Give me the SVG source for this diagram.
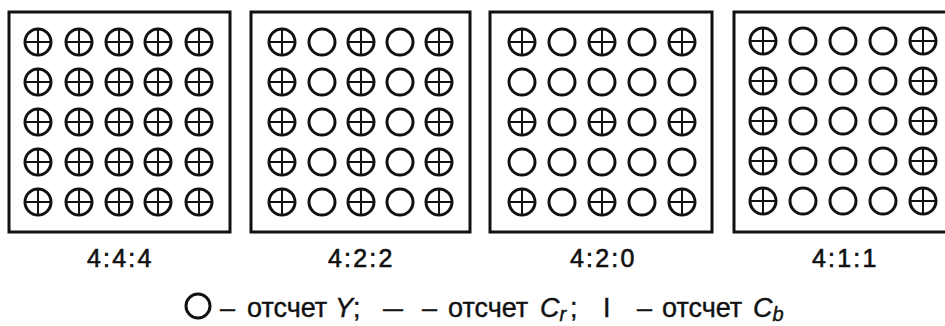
<svg xmlns="http://www.w3.org/2000/svg" xmlns:xlink="http://www.w3.org/1999/xlink" width="945" height="326" viewBox="0 0 945 326">
<style>
.frame{fill:none;stroke:#111;stroke-width:3}
.s{fill:none;stroke:#111;stroke-width:3}
.x{fill:none;stroke:#111;stroke-width:2}
.lbl{font-family:"Liberation Sans",Arial,sans-serif;font-size:25px;fill:#111;stroke:#111;stroke-width:0.6;letter-spacing:2.2px}
.leg{font-family:"Liberation Sans",Arial,sans-serif;font-size:27px;fill:#111;stroke:#111;stroke-width:0.4}
.it{font-style:italic}
.sub{font-style:italic;font-size:20px}
</style>
<defs>
<g id="Y"><circle r="13" class="s"/></g>
<g id="YC"><circle r="13" class="s"/><path d="M-12 0H12M0 -12V12" class="x"/></g>
</defs>
<rect width="945" height="326" fill="#fff"/>

<g id="panel-444">
<rect x="9" y="12" width="221" height="220" class="frame"/>
<use xlink:href="#YC" x="38" y="42"/><use xlink:href="#YC" x="79" y="42"/><use xlink:href="#YC" x="119" y="42"/><use xlink:href="#YC" x="158" y="42"/><use xlink:href="#YC" x="199" y="42"/>
<use xlink:href="#YC" x="38" y="82"/><use xlink:href="#YC" x="79" y="82"/><use xlink:href="#YC" x="119" y="82"/><use xlink:href="#YC" x="158" y="82"/><use xlink:href="#YC" x="199" y="82"/>
<use xlink:href="#YC" x="38" y="122"/><use xlink:href="#YC" x="79" y="122"/><use xlink:href="#YC" x="119" y="122"/><use xlink:href="#YC" x="158" y="122"/><use xlink:href="#YC" x="199" y="122"/>
<use xlink:href="#YC" x="38" y="162"/><use xlink:href="#YC" x="79" y="162"/><use xlink:href="#YC" x="119" y="162"/><use xlink:href="#YC" x="158" y="162"/><use xlink:href="#YC" x="199" y="162"/>
<use xlink:href="#YC" x="38" y="202"/><use xlink:href="#YC" x="79" y="202"/><use xlink:href="#YC" x="119" y="202"/><use xlink:href="#YC" x="158" y="202"/><use xlink:href="#YC" x="199" y="202"/>
<text class="lbl" x="87" y="267">4:4:4</text>
</g>

<g id="panel-422">
<rect x="251" y="12" width="219" height="220" class="frame"/>
<use xlink:href="#YC" x="282" y="42"/><use xlink:href="#Y" x="322" y="42"/><use xlink:href="#YC" x="361" y="42"/><use xlink:href="#Y" x="400" y="42"/><use xlink:href="#YC" x="439" y="42"/>
<use xlink:href="#YC" x="282" y="82"/><use xlink:href="#Y" x="322" y="82"/><use xlink:href="#YC" x="361" y="82"/><use xlink:href="#Y" x="400" y="82"/><use xlink:href="#YC" x="439" y="82"/>
<use xlink:href="#YC" x="282" y="122"/><use xlink:href="#Y" x="322" y="122"/><use xlink:href="#YC" x="361" y="122"/><use xlink:href="#Y" x="400" y="122"/><use xlink:href="#YC" x="439" y="122"/>
<use xlink:href="#YC" x="282" y="162"/><use xlink:href="#Y" x="322" y="162"/><use xlink:href="#YC" x="361" y="162"/><use xlink:href="#Y" x="400" y="162"/><use xlink:href="#YC" x="439" y="162"/>
<use xlink:href="#YC" x="282" y="202"/><use xlink:href="#Y" x="322" y="202"/><use xlink:href="#YC" x="361" y="202"/><use xlink:href="#Y" x="400" y="202"/><use xlink:href="#YC" x="439" y="202"/>
<text class="lbl" x="328" y="267">4:2:2</text>
</g>

<g id="panel-420">
<rect x="490" y="12" width="222" height="220" class="frame"/>
<use xlink:href="#YC" x="522" y="42"/><use xlink:href="#Y" x="562" y="42"/><use xlink:href="#YC" x="602" y="42"/><use xlink:href="#Y" x="642" y="42"/><use xlink:href="#YC" x="682" y="42"/>
<use xlink:href="#Y" x="522" y="82"/><use xlink:href="#Y" x="562" y="82"/><use xlink:href="#Y" x="602" y="82"/><use xlink:href="#Y" x="642" y="82"/><use xlink:href="#Y" x="682" y="82"/>
<use xlink:href="#YC" x="522" y="122"/><use xlink:href="#Y" x="562" y="122"/><use xlink:href="#YC" x="602" y="122"/><use xlink:href="#Y" x="642" y="122"/><use xlink:href="#YC" x="682" y="122"/>
<use xlink:href="#Y" x="522" y="162"/><use xlink:href="#Y" x="562" y="162"/><use xlink:href="#Y" x="602" y="162"/><use xlink:href="#Y" x="642" y="162"/><use xlink:href="#Y" x="682" y="162"/>
<use xlink:href="#YC" x="522" y="202"/><use xlink:href="#Y" x="562" y="202"/><use xlink:href="#YC" x="602" y="202"/><use xlink:href="#Y" x="642" y="202"/><use xlink:href="#YC" x="682" y="202"/>
<text class="lbl" x="570" y="267">4:2:0</text>
</g>

<g id="panel-411">
<rect x="734" y="12" width="214" height="220" class="frame"/>
<use xlink:href="#YC" x="763" y="41"/><use xlink:href="#Y" x="803" y="41"/><use xlink:href="#Y" x="843" y="41"/><use xlink:href="#Y" x="883" y="41"/><use xlink:href="#YC" x="923" y="41"/>
<use xlink:href="#YC" x="763" y="81"/><use xlink:href="#Y" x="803" y="81"/><use xlink:href="#Y" x="843" y="81"/><use xlink:href="#Y" x="883" y="81"/><use xlink:href="#YC" x="923" y="81"/>
<use xlink:href="#YC" x="763" y="121"/><use xlink:href="#Y" x="803" y="121"/><use xlink:href="#Y" x="843" y="121"/><use xlink:href="#Y" x="883" y="121"/><use xlink:href="#YC" x="923" y="121"/>
<use xlink:href="#YC" x="763" y="161"/><use xlink:href="#Y" x="803" y="161"/><use xlink:href="#Y" x="843" y="161"/><use xlink:href="#Y" x="883" y="161"/><use xlink:href="#YC" x="923" y="161"/>
<use xlink:href="#YC" x="763" y="201"/><use xlink:href="#Y" x="803" y="201"/><use xlink:href="#Y" x="843" y="201"/><use xlink:href="#Y" x="883" y="201"/><use xlink:href="#YC" x="923" y="201"/>
<text class="lbl" x="812" y="267">4:1:1</text>
</g>

<g id="legend">
<circle cx="198" cy="306" r="12" class="s"/>
<text class="leg" y="317"><tspan x="220">–</tspan><tspan x="247">отсчет</tspan><tspan x="335" class="it">Y</tspan><tspan x="353">;</tspan><tspan x="383" textLength="20" lengthAdjust="spacingAndGlyphs">—</tspan><tspan x="422">–</tspan><tspan x="448">отсчет</tspan><tspan x="540" class="it">C</tspan><tspan class="sub" dy="4">r</tspan><tspan x="570" dy="-4">;</tspan><tspan x="603">I</tspan><tspan x="637">–</tspan><tspan x="662">отсчет</tspan><tspan x="753" class="it">C</tspan><tspan class="sub" dy="4">b</tspan></text>
</g>
</svg>
